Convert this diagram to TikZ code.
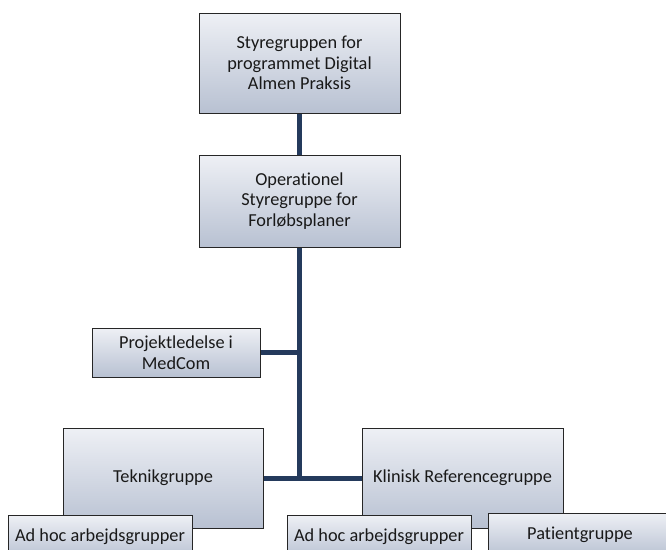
\documentclass[tikz,border=0pt]{standalone}
\usepackage{fontspec}
\setmainfont{Carlito}[Ligatures=NoCommon]
\begin{document}
\begin{tikzpicture}[x=1pt,y=-1pt,
  orgbox/.style={draw=black!85, line width=1pt, top color=boxtop, bottom color=boxbot,
    align=center, inner sep=2pt, font=\fontsize{18.3pt}{20.6pt}\selectfont, text=black!90},
  link/.style={draw=linkcol, line width=5pt}]
\definecolor{boxtop}{HTML}{EEF0F5}
\definecolor{boxbot}{HTML}{B8C1D2}
\definecolor{linkcol}{HTML}{243A5C}
\useasboundingbox (0,0) rectangle (666,549);
\clip (0,0) rectangle (666,549);
\node[orgbox, minimum width=201pt, minimum height=100pt] (top) at (299.5,63)
  {Styregruppen for\\programmet Digital\\Almen Praksis};
\node[orgbox, minimum width=201pt, minimum height=92pt] (ops) at (299.5,201)
  {Operationel\\Styregruppe for\\Forløbsplaner};
\node[orgbox, minimum width=168pt, minimum height=49pt] (proj) at (176,352.5)
  {Projektledelse i\\MedCom};
\node[orgbox, minimum width=200pt, minimum height=100pt] (tek) at (163,478)
  {Teknikgruppe};
\node[orgbox, minimum width=201pt, minimum height=100pt] (klin) at (462.5,478)
  {Klinisk Referencegruppe};
\coordinate (junc) at (299.5,478);
\draw[link] (top.south) -- (ops.north);
\draw[link] (ops.south) -- (junc);
\draw[link] (proj.east) -- (proj.east -| junc);
\draw[link] (tek.east) -- (klin.west);
\node[orgbox, minimum width=184pt, minimum height=44pt] (adhoc1) at (100,537)
  {Ad hoc arbejdsgrupper};
\node[orgbox, minimum width=184pt, minimum height=44pt] (adhoc2) at (379,537)
  {Ad hoc arbejdsgrupper};
\node[orgbox, minimum width=184pt, minimum height=44pt] (pat) at (580,535)
  {Patientgruppe};
\end{tikzpicture}
\end{document}
